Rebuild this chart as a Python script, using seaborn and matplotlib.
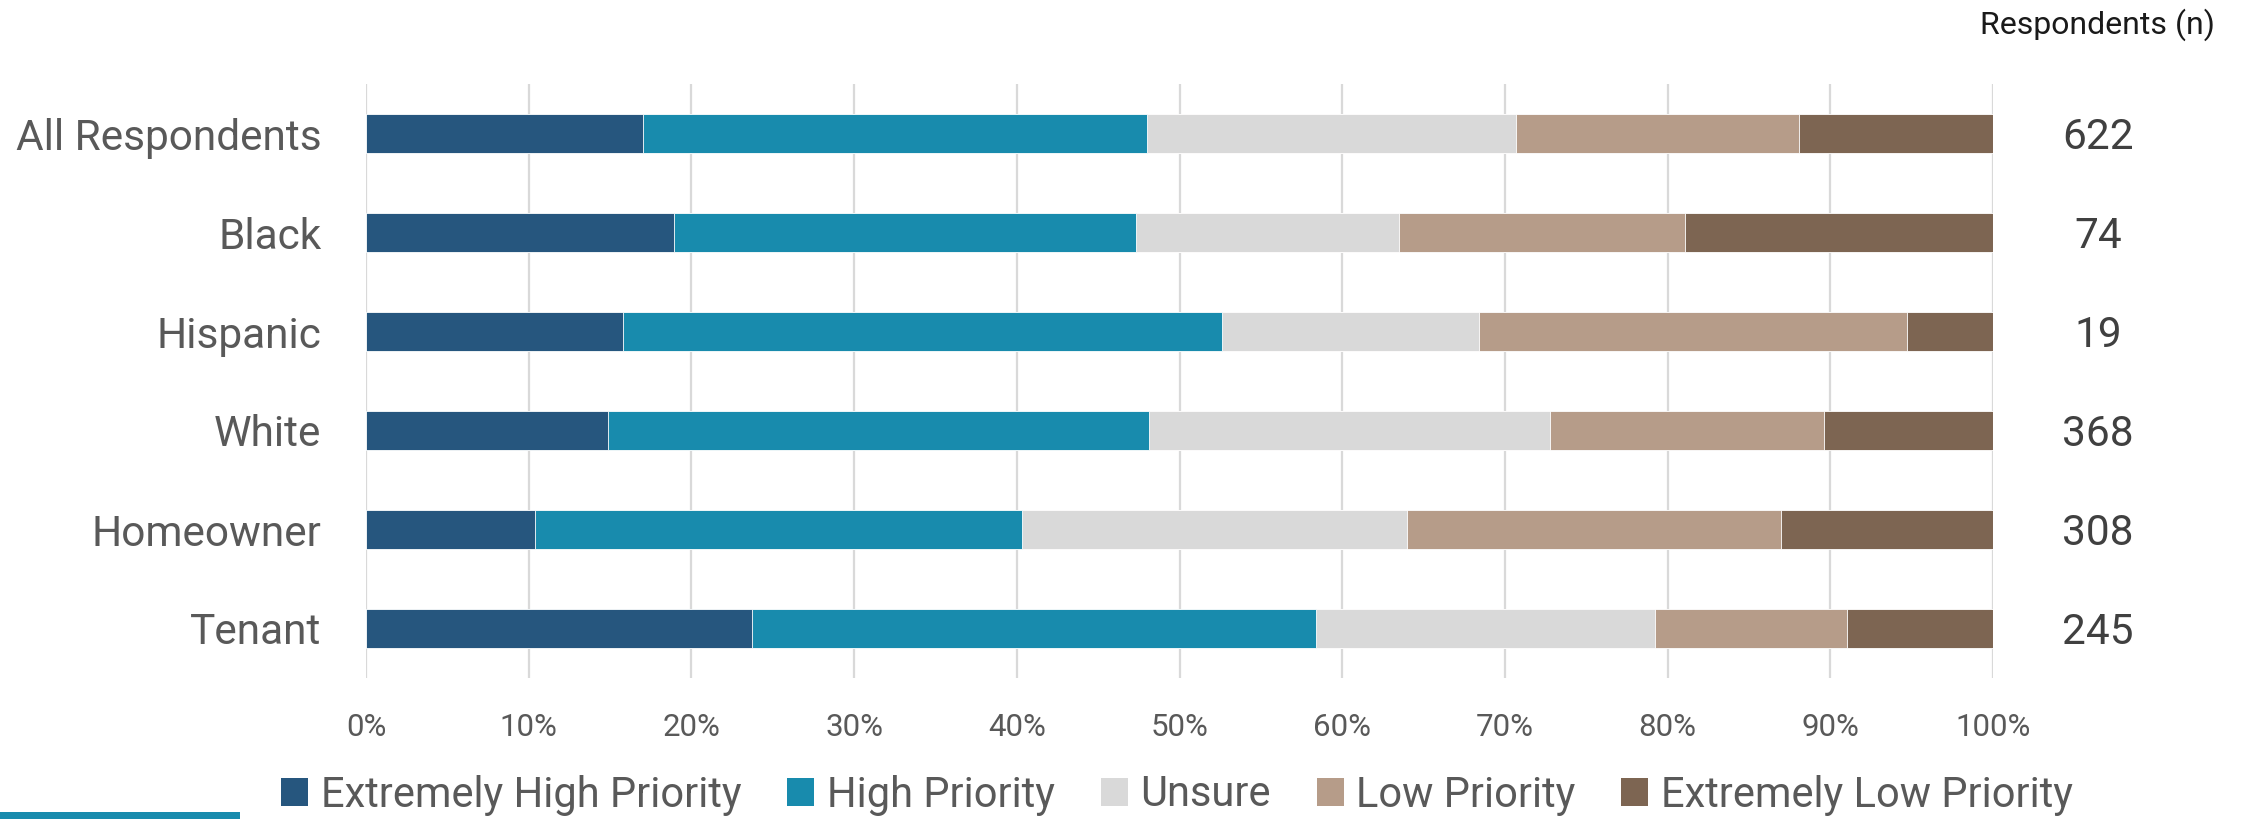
import matplotlib
matplotlib.use("Agg")
import matplotlib.pyplot as plt
import matplotlib.patches as mpatches
import seaborn as sns
import pandas as pd
import numpy as np

categories = ["All Respondents", "Black", "Hispanic", "White", "Homeowner", "Tenant"]
respondents_n = [622, 74, 19, 368, 308, 245]
series_names = ["Extremely High Priority", "High Priority", "Unsure", "Low Priority", "Extremely Low Priority"]
extremely_high = [17.0, 18.9, 15.8, 14.9, 10.4, 23.7]
high = [31.0, 28.4, 36.8, 33.2, 29.9, 34.7]
unsure = [22.7, 16.2, 15.8, 24.7, 23.7, 20.8]
low = [17.4, 17.6, 26.3, 16.8, 23.0, 11.8]
extremely_low = [11.9, 18.9, 5.3, 10.4, 13.0, 9.0]
colors = ["#26567E", "#188BAD", "#D9D9D9", "#B69C89", "#7D6552"]
xticks = [0, 10, 20, 30, 40, 50, 60, 70, 80, 90, 100]

sns.set_theme(style="white")
plt.rcParams["font.family"] = ["Roboto", "DejaVu Sans"]

series = [extremely_high, high, unsure, low, extremely_low]
cum = np.cumsum(np.array(series), axis=0)

fig = plt.figure(figsize=(22.44, 8.19), dpi=100)
ax = fig.add_axes([366 / 2244, 141 / 819, 1627 / 2244, 594 / 819])

for k in range(len(series) - 1, -1, -1):
    df = pd.DataFrame({"category": categories, "value": cum[k]})
    sns.barplot(data=df, x="value", y="category", order=categories, orient="h",
                color=colors[k], width=0.4, saturation=1, ax=ax,
                edgecolor="white", linewidth=0.6, zorder=3)

ax.set_xlim(0, 100)
ax.set_ylim(5.5, -0.5)
ax.set_xticks(xticks)
ax.set_xticklabels([f"{t}%" for t in xticks])
ax.set_xlabel("")
ax.set_ylabel("")
ax.xaxis.grid(True, color="#D9D9D9", linewidth=1.6, zorder=0)
ax.set_axisbelow(True)
for s in ax.spines.values():
    s.set_visible(False)
ax.tick_params(axis="x", length=0, pad=25, labelsize=22.5, labelcolor="#595959")
ax.tick_params(axis="y", length=0, pad=32, labelsize=30.5, labelcolor="#595959")

for i, n in enumerate(respondents_n):
    ax.annotate(str(n), xy=(2098 / 2244, i + 0.04), xycoords=("figure fraction", "data"),
                ha="center", va="center", fontsize=30.5, color="#404040")

fig.text(2097 / 2244, 1 - 25 / 819, "Respondents (n)", ha="center", va="center",
         fontsize=23, color="#1a1a1a")

handles = [mpatches.Patch(facecolor=c, edgecolor="none", label=l) for c, l in zip(colors, series_names)]
fig.legend(handles=handles, loc="center", bbox_to_anchor=(1177 / 2244, 24 / 819), ncol=5,
           frameon=False, fontsize=30, handlelength=0.65, handleheight=0.65,
           handletextpad=0.3, columnspacing=1.1, labelcolor="#595959", borderaxespad=0)

fig.patches.append(mpatches.Rectangle((0, 0), 240 / 2244, 7 / 819, transform=fig.transFigure,
                                      facecolor="#188BAD", edgecolor="none"))

fig.savefig("out.png", dpi=100)
